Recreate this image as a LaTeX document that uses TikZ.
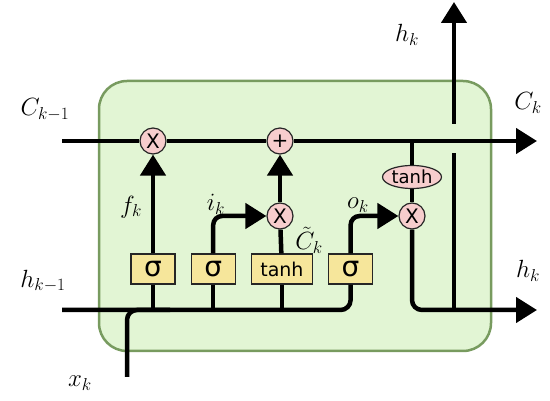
\documentclass[tikz,border=0pt]{standalone}
\usepackage{fontspec}
\usepackage{amsmath}
\usetikzlibrary{arrows.meta,positioning,shapes.geometric}
\newfontfamily\gatefont{DejaVu Sans}
\definecolor{cellgreen}{RGB}{226,245,212}
\definecolor{celledge}{RGB}{120,155,95}
\definecolor{gateyellow}{RGB}{246,230,155}
\definecolor{oppink}{RGB}{247,205,205}
\newcommand{\Cprev}{C_{k-1}}
\newcommand{\hprev}{h_{k-1}}
\newcommand{\Ctil}{\tilde{C}_k}

\begin{document}
\begin{tikzpicture}[x=1pt,y=-1pt,
	cell/.style={draw=celledge, line width=2.5pt, fill=cellgreen, rounded corners=28pt, minimum width=392pt, minimum height=270pt},
	gate/.style={draw=black!85, line width=1.2pt, fill=gateyellow, minimum width=44pt, minimum height=30pt, inner sep=0pt, font=\gatefont\fontsize{28}{28}\selectfont},
	op/.style={circle, draw=black!85, line width=1.2pt, fill=oppink, minimum size=26pt, inner sep=0pt, font=\gatefont\fontsize{20}{20}\selectfont},
	flow/.style={line width=4.5pt},
	arr/.style={flow, -{Triangle[length=21pt,width=25pt]}},
	lbl/.style={inner sep=0pt, font=\fontsize{25}{30}\selectfont},
]
\useasboundingbox (0,0) rectangle (550,401);

\node[cell] (box) at (295,216) {};

\node[gate] (g1) at (153,269) {σ};
\node[gate, right=15pt of g1] (g2) {σ};
\node[gate, right=15pt of g2, minimum width=61pt, font=\gatefont\fontsize{19}{19}\selectfont] (g3) {tanh};
\node[gate, right=15pt of g3] (g4) {σ};

\node[op] (m1) at (153,141) {X};
\node[op] (p1) at (280,141) {+};
\node[op] (m2) at (280,216) {X};
\node[op] (m3) at (412,216) {X};
\node[ellipse, draw=black!85, line width=1.2pt, fill=oppink, minimum width=59pt, minimum height=23pt, inner sep=0pt, font=\gatefont\fontsize{18}{18}\selectfont] (t1) at (412,177) {tanh};

\coordinate (c0) at (62,141);
\coordinate (c1) at (537,141);
\coordinate (c2) at (412,141);
\coordinate (b0) at (62,310);
\coordinate (x0) at (127,377);
\coordinate (x1) at (170,310);
\coordinate (e1) at (537,310);
\coordinate (d0) at (454,310);
\coordinate (d1) at (454,153);
\coordinate (d2) at (454,124);
\coordinate (d3) at (454,2);

\draw[arr] (c0) -- (m1) -- (p1) -- (c1);
\draw[flow] (c2) -- (t1);
\draw[flow] (t1) -- (m3);
\draw[arr] (g1) -- (m1);
\draw[arr, rounded corners=9pt] (g2) |- (m2);
\draw[flow] (g3) -- (m2);
\draw[arr] (m2) -- (p1);
\draw[arr, rounded corners=9pt] (g4) |- (m3);
\draw[flow, rounded corners=10pt] (b0) -| (g4);
\draw[flow, rounded corners=10pt] (x0) |- (x1);
\draw[flow] (g1) -- (g1 |- b0);
\draw[flow] (g2) -- (g2 |- b0);
\draw[flow] (g3) -- (g3 |- b0);
\draw[arr, rounded corners=10pt] (m3) |- (e1);
\draw[flow] (d0) -- (d1);
\draw[arr] (d2) -- (d3);

\node[lbl] (n1) at (45,110) {$\Cprev$};
\node[lbl] (n2) at (528,103) {$C_k$};
\node[lbl] (n3) at (407,35) {$h_k$};
\node[lbl] (n4) at (528,271) {$h_k$};
\node[lbl] (n5) at (43,281) {$\hprev$};
\node[lbl] (n6) at (80,383) {$x_k$};
\node[lbl] (n7) at (131,207) {$f_k$};
\node[lbl] (n8) at (216,204) {$i_k$};
\node[lbl] (n9) at (309,240) {$\Ctil$};
\node[lbl] (n10) at (358,205) {$o_k$};
\end{tikzpicture}
\end{document}
